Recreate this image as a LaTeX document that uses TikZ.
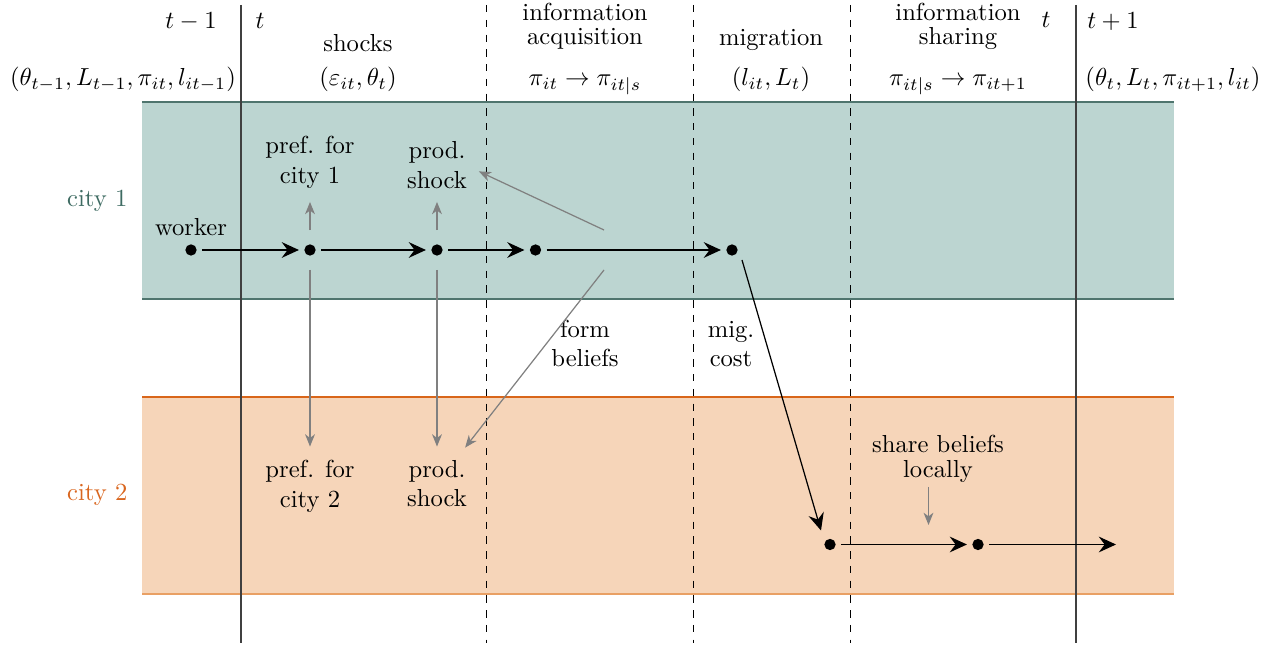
\documentclass[tikz,border=0pt]{standalone}
\usetikzlibrary{arrows.meta}
\definecolor{tealfill}{HTML}{BCD5D1}
\definecolor{tealline}{HTML}{4F756E}
\definecolor{tealtext}{HTML}{3E6B62}
\definecolor{orfill}{HTML}{F6D5B9}
\definecolor{orline}{HTML}{D9661A}
\definecolor{orlinelight}{HTML}{E9A064}
\definecolor{ortext}{HTML}{D9661F}
\tikzset{
  dot/.style={circle, fill=black, inner sep=0pt, minimum size=4.6pt, outer sep=2.2pt},
  blkarr/.style={-{Stealth[length=7pt,width=6.4pt,inset=2.4pt]}, line width=0.5pt},
  gryarr/.style={-{Stealth[length=5pt,width=4pt,inset=1.5pt]}, gray, line width=0.5pt},
  vsolid/.style={black!75, line width=0.5pt},
  vdash/.style={black, dashed, line width=0.4pt},
  lbl/.style={align=center, inner sep=3.33pt},
}
\begin{document}
\begin{tikzpicture}[x=0.4065pt,y=-0.4065pt]
\useasboundingbox (0,0) rectangle (1276,646);
% city bands
\fill[tealfill] (142,102) rectangle (1174,299);
\draw[tealline, line width=0.6pt] (142,102) -- (1174,102);
\draw[tealline, line width=0.6pt] (142,299) -- (1174,299);
\fill[orfill] (142,397) rectangle (1174,594);
\draw[orline, line width=0.6pt] (142,397) -- (1174,397);
\draw[orlinelight, line width=0.8pt] (142,594) -- (1174,594);
% time lines
\draw[vsolid] (241,5) -- (241,643);
\draw[vsolid] (1076,5) -- (1076,643);
\draw[vdash] (486,5) -- (486,643);
\draw[vdash] (693,5) -- (693,643);
\draw[vdash] (850,5) -- (850,643);
% headers
\node[anchor=base] (tm1) at (191,29) {$t-1$};
\node[anchor=base] (t0) at (260,29) {$t$};
\node[anchor=base] (st0) at (123,86) {$(\theta_{t-1}, L_{t-1}, \pi_{it}, l_{it-1})$};
\node[anchor=base] (shk) at (358,52) {shocks};
\node[anchor=base] (shkm) at (358,86) {$(\varepsilon_{it}, \theta_t)$};
\node[anchor=base, align=center] (inf) at (585,45) {information\\[-2.2pt]acquisition};
\node[anchor=base] (infm) at (585,86) {$\pi_{it} \rightarrow \pi_{it|s}$};
\node[anchor=base] (mig) at (771,46) {migration};
\node[anchor=base] (migm) at (771,86) {$(l_{it}, L_t)$};
\node[anchor=base, align=center] (shr) at (958,45) {information\\[-2.2pt]sharing};
\node[anchor=base] (shrm) at (958,86) {$\pi_{it|s} \rightarrow \pi_{it+1}$};
\node[anchor=base] (t1) at (1046,28) {$t$};
\node[anchor=base] (tp1) at (1113,29) {$t+1$};
\node[anchor=base] (st1) at (1173,86) {$(\theta_t, L_t, \pi_{it+1}, l_{it})$};
% city labels
\node[anchor=base east, text=tealtext] (c1lab) at (136,207) {city 1};
\node[anchor=base east, text=ortext] (c2lab) at (136,501) {city 2};
% worker path, city 1
\node[dot] (w) at (191,250) {};
\node[anchor=base] (wlab) at (191,236) {worker};
\node[dot] (d1) at (310,250) {};
\node[dot] (d2) at (437,250) {};
\node[dot] (d3) at (535.5,250) {};
\node[dot] (d4) at (732,250) {};
% city 2
\node[dot] (e1) at (830,544.5) {};
\node[dot] (e2) at (978,544.5) {};
\coordinate (eend) at (1116,544.5);
% labels
\node[lbl, anchor=south] (pref1) at (310,197) {pref. for\\city 1};
\node[lbl, anchor=south] (prod1) at (437,197) {prod.\\shock};
\node[lbl, anchor=north] (pref2) at (310,451.5) {pref. for\\city 2};
\node[lbl, anchor=north] (prod2) at (437,451.5) {prod.\\shock};
\node[anchor=base, align=center] (fb) at (585,366.7) {form\\beliefs};
\node[anchor=base, align=center] (mc) at (731,366.7) {mig.\\cost};
\node[anchor=base, align=center] (sb) at (938,477.7) {share beliefs\\[-1.8pt]locally};
\coordinate (fbu) at (604,230);
\coordinate (fbd) at (604,270);
\coordinate (sbs) at (928.5,487);
\coordinate (sbt) at (928.5,525);
% black arrows
\draw[blkarr] (w) -- (d1);
\draw[blkarr] (d1) -- (d2);
\draw[blkarr] (d2) -- (d3);
\draw[blkarr] (d3) -- (d4);
\draw[blkarr] ([shift={(10,10)}]d4.center) -- ([shift={(-9,-14)}]e1.center);
\draw[blkarr] (e1) -- (e2);
\draw[blkarr] (e2) -- (eend);
% gray arrows
\draw[gryarr, shorten <=3.6pt, shorten >=2pt] (d1) -- (pref1);
\draw[gryarr, shorten <=3.6pt, shorten >=2pt] (d2) -- (prod1);
\draw[gryarr, shorten <=3.6pt, shorten >=2pt] (d1) -- (pref2);
\draw[gryarr, shorten <=3.6pt, shorten >=2pt] (d2) -- (prod2);
\draw[gryarr, shorten >=1.5pt] (fbu) -- ([yshift=-2pt]prod1.east);
\draw[gryarr, shorten >=2pt] (fbd) -- (prod2);
\draw[gryarr] (sbs) -- (sbt);
\end{tikzpicture}
\end{document}
